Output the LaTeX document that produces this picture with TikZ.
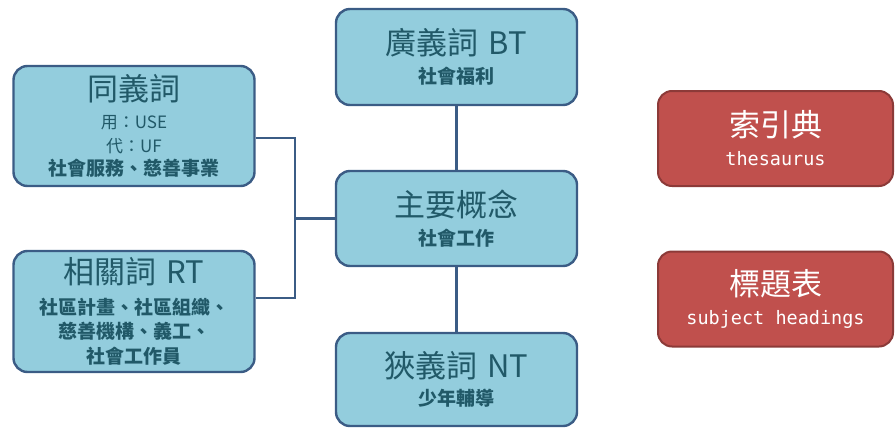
\documentclass[tikz,border=0pt]{standalone}
\usepackage{fontspec}
\setmainfont{Noto Sans CJK TC}
\newfontfamily\monofont{DejaVu Sans Mono}
\usepackage{tikz}
\definecolor{termfill}{HTML}{93CDDD}
\definecolor{termline}{HTML}{3B5C85}
\definecolor{termtext}{HTML}{215968}
\definecolor{kindfill}{HTML}{C0504D}
\definecolor{kindline}{HTML}{8C3A38}
\newcommand{\ttlsize}{\fontsize{31}{34}\selectfont}
\newcommand{\subsize}{\fontsize{17}{23}\selectfont}
\tikzset{
    termbox/.style={draw=termline, fill=termfill, line width=2.4pt, rounded corners=14pt,
        text=termtext, align=center, inner sep=0pt,
        minimum width=241pt, font=\fontsize{19}{24.5}\selectfont\bfseries},
    kindbox/.style={draw=kindline, fill=kindfill, line width=2pt, rounded corners=14pt,
        text=white, align=center, inner sep=0pt,
        minimum width=235pt, minimum height=95pt, font=\fontsize{18.5}{24}\selectfont\monofont},
    link/.style={draw=termline, line width=2.4pt},
}
\begin{document}
\begin{tikzpicture}[x=1pt, y=-1pt]
    \useasboundingbox (0, 0) rectangle (896, 428);

    % term boxes
    \node[termbox, minimum height=120pt] (syn) at (134, 126)
        {{\ttlsize\mdseries 同義詞}\\[4pt]{\subsize\mdseries 用：USE}\\[-1pt]{\subsize\mdseries 代：UF}\\[-1pt] 社會服務、慈善事業};
    \node[termbox, minimum height=121pt] (rt) at (134, 311.5)
        {{\ttlsize\mdseries 相關詞\hspace{3pt} RT}\\[6pt]社區計畫、社區組織、\\ 慈善機構、義工、\\ 社會工作員};
    \node[termbox, minimum height=96pt] (bt) at (456.5, 57)
        {{\ttlsize\mdseries 廣義詞\hspace{3pt} BT}\\[4pt] 社會福利};
    \node[termbox, minimum height=95pt] (main) at (456.5, 218.5)
        {{\ttlsize\mdseries 主要概念}\\[4pt] 社會工作};
    \node[termbox, minimum height=93pt] (nt) at (456.5, 379.5)
        {{\ttlsize\mdseries 狹義詞\hspace{3pt} NT}\\[4pt] 少年輔導};

    % kinds
    \node[kindbox] (thes) at (775.5, 138.5)
        {{\ttlsize\rmfamily 索引典}\\[5pt]thesaurus};
    \node[kindbox] (subj) at (775.5, 299)
        {{\ttlsize\rmfamily 標題表}\\[5pt]subject headings};

    % links
    \coordinate (jn) at (295, 218.5);
    \draw[link] ([yshift=-12pt]syn.east) -| (jn) |- ([yshift=13.5pt]rt.east);
    \draw[link] (jn) -- (main.west);
    \draw[link] (bt) -- (main);
    \draw[link] (main) -- (nt);

\end{tikzpicture}
\end{document}
